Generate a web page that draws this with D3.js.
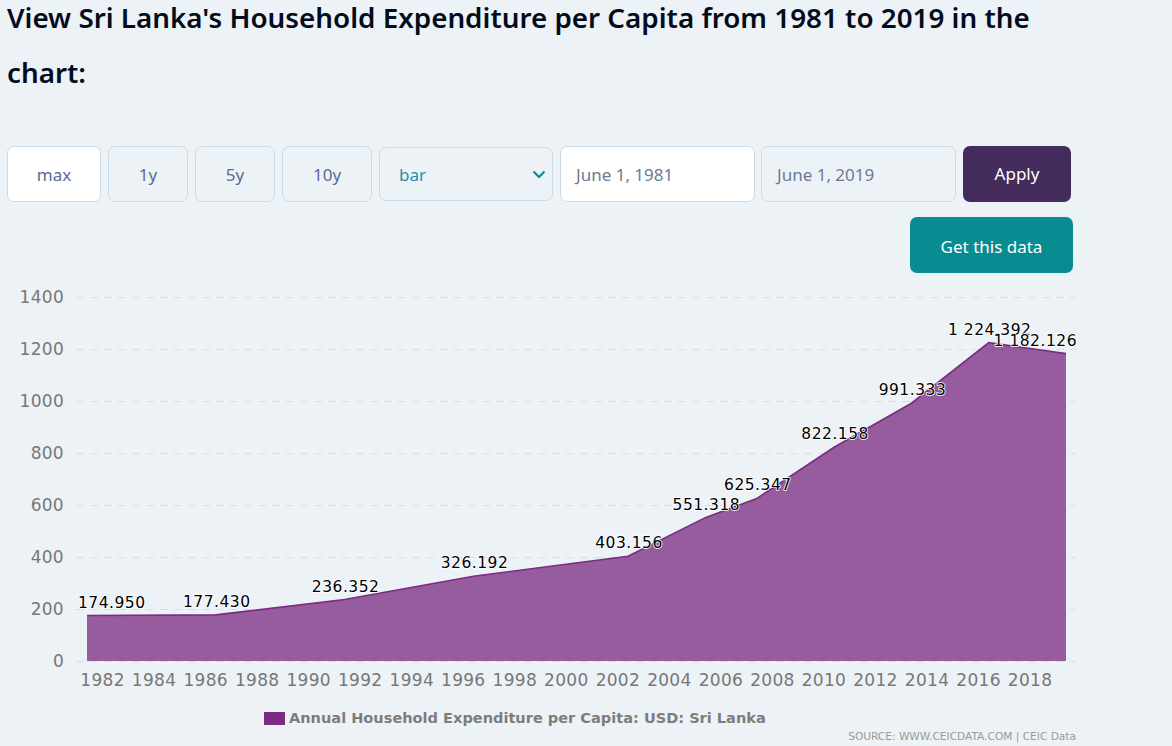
<!DOCTYPE html>
<html>
<head>
<meta charset="utf-8">
<script src="https://cdn.jsdelivr.net/npm/d3@7"></script>
<style>
    html, body { margin: 0; padding: 0; background: #edf2f7; overflow: hidden; }
    body { width: 1172px; height: 746px; position: relative; font-family: 'Noto Sans', sans-serif; }
    h2 { position: absolute; left: 7px; top: 0; width: 1050px; margin: 0; font-size: 27.8px; line-height: 34px; font-weight: 600; color: #020c1c; }
    h2 span { display: block; }
    h2 span + span { margin-top: 21px; }
    .ctl { position: absolute; box-sizing: border-box; height: 56px; top: 146px; border: 1px solid #cbdbe7; border-radius: 7px; font-size: 17px; line-height: 56px; color: #5b6b94; text-align: center; }
    .ctl.on { background: #fff; }
    .ctl.left { text-align: left; padding-left: 15px; line-height: 55px; color: #6c7a93; }
    .btn { border: 0; color: #fff; }
    #chart { position: absolute; left: 0; top: 0; }
    .chev { position: absolute; left: 532px; top: 170px; }
</style>
</head>
<body>
<h2><span>View Sri Lanka's Household Expenditure per Capita from 1981 to 2019 in the</span><span>chart:</span></h2>
<div id="controls"></div>
<div id="chart"></div>
<script>
    let years = [1981, 1986, 1991, 1996, 2002, 2005, 2007, 2010, 2013, 2016, 2019];
    let values = [174.950, 177.430, 236.352, 326.192, 403.156, 551.318, 625.347, 822.158, 991.333, 1224.392, 1182.126];
    let yTicks = [0, 200, 400, 600, 800, 1000, 1200, 1400];
    let seriesName = 'Annual Household Expenditure per Capita: USD: Sri Lanka';
    let sourceText = 'SOURCE: WWW.CEICDATA.COM | CEIC Data';
    let buttonLabels = ['max', '1y', '5y', '10y'];
    let dateLabels = ['June 1, 1981', 'June 1, 2019'];

    let controls = d3.select('#controls');

    // range buttons, first one is the active one
    let buttonBoxes = [[7, 94], [108, 80], [195, 80], [282, 90]];
    buttonLabels.forEach((label, i) => {
        controls.append('div')
            .attr('class', i === 0 ? 'ctl on' : 'ctl')
            .style('left', buttonBoxes[i][0] + 'px')
            .style('width', buttonBoxes[i][1] + 'px')
            .text(label);
    });

    controls.append('div')
        .attr('class', 'ctl left')
        .style('left', '379px').style('width', '174px')
        .style('height', '54px').style('top', '147px').style('line-height', '54px')
        .style('padding-left', '19px').style('color', '#1a93ad')
        .text('bar');

    controls.append('svg')
        .attr('class', 'chev').attr('width', 14).attr('height', 10)
        .append('path')
        .attr('d', 'M1.5 1.5 L7 7 L12.5 1.5')
        .attr('fill', 'none').attr('stroke', '#078d91').attr('stroke-width', 2.2);

    controls.append('div')
        .attr('class', 'ctl left on')
        .style('left', '560px').style('width', '195px')
        .text(dateLabels[0]);
    controls.append('div')
        .attr('class', 'ctl left')
        .style('left', '761px').style('width', '195px')
        .text(dateLabels[1]);

    controls.append('div')
        .attr('class', 'ctl btn')
        .style('left', '963px').style('width', '108px').style('background', '#432c5c').style('color', '#fff')
        .text('Apply');
    controls.append('div')
        .attr('class', 'ctl btn')
        .style('left', '910px').style('top', '217px').style('width', '163px').style('line-height', '59px')
        .style('background', '#078d91').style('color', '#fff')
        .text('Get this data');

    let svg = d3.select('#chart').append('svg')
        .attr('width', 1172)
        .attr('height', 746);

    let dates = years.map(y => new Date(y, 5, 1));
    let data = dates.map((d, i) => ({ date: d, value: values[i] }));

    let x = d3.scaleTime()
        .domain([dates[0], dates[dates.length - 1]])
        .range([87, 1066]);
    let y = d3.scaleLinear()
        .domain([0, 1400])
        .range([661, 297]);

    // grid
    svg.append('g').selectAll('line')
        .data(yTicks)
        .enter()
        .append('line')
        .attr('x1', 76)
        .attr('x2', 1076)
        .attr('y1', d => Math.round(y(d)) + 0.5)
        .attr('y2', d => Math.round(y(d)) + 0.5)
        .attr('stroke', '#d9dfe4')
        .attr('stroke-width', 1.2)
        .attr('stroke-dasharray', '8,6');

    // y axis
    let yAxis = svg.append('g')
        .attr('transform', 'translate(64,0)')
        .call(d3.axisLeft(y).tickValues(yTicks).tickFormat(d3.format('d')).tickSize(0).tickPadding(0));
    yAxis.select('.domain').remove();
    yAxis.selectAll('text')
        .attr('dy', null)
        .attr('y', 5)
        .style('font-family', "'DejaVu Sans', sans-serif")
        .style('font-size', '17px')
        .style('letter-spacing', '0.3px')
        .style('fill', '#777');

    // x axis, ticks sit on Jan 1 of even years
    let xTicks = d3.timeYear.range(new Date(1982, 0, 1), new Date(2019, 0, 1), 2);
    let xAxis = svg.append('g')
        .attr('transform', 'translate(0,661)')
        .call(d3.axisBottom(x).tickValues(xTicks).tickFormat(d3.timeFormat('%Y')).tickSize(0).tickPadding(0));
    xAxis.select('.domain').remove();
    xAxis.selectAll('text')
        .attr('dy', null)
        .attr('y', 25)
        .style('font-family', "'DejaVu Sans', sans-serif")
        .style('font-size', '17px')
        .style('letter-spacing', '0.3px')
        .style('fill', '#777');

    // area + line
    let area = d3.area().x(d => x(d.date)).y0(y(0)).y1(d => y(d.value));
    let line = d3.line().x(d => x(d.date)).y(d => y(d.value));

    svg.append('path')
        .datum(data)
        .attr('d', area)
        .attr('fill', '#782a7f')
        .attr('fill-opacity', 0.75);
    svg.append('path')
        .datum(data)
        .attr('d', line)
        .attr('fill', 'none')
        .attr('stroke', '#7c2b84')
        .attr('stroke-width', 1.6);

    // value labels, pushed back inside the plot at both ends
    let fmt = d3.formatLocale({ decimal: '.', thousands: ' ', grouping: [3], currency: ['', ''] }).format(',.3f');
    svg.append('g').selectAll('text')
        .data(data)
        .enter()
        .append('text')
        .text(d => fmt(d.value))
        .attr('x', d => x(d.date))
        .attr('y', d => y(d.value) - 8)
        .attr('text-anchor', 'middle')
        .style('font-family', "'DejaVu Sans', sans-serif")
        .style('font-size', '15.5px')
        .style('letter-spacing', '0.5px')
        .style('fill', '#000')
        .style('stroke', '#fff')
        .style('stroke-width', 1.6)
        .style('stroke-linejoin', 'round')
        .style('paint-order', 'stroke')
        .each(function(d) {
            let w = this.getComputedTextLength();
            let cx = x(d.date) + 1;
            if (cx - w / 2 < 78) cx = 78 + w / 2;
            if (cx + w / 2 > 1077) cx = 1077 - w / 2;
            d3.select(this).attr('x', cx);
        });

    // legend
    svg.append('rect')
        .attr('x', 264).attr('y', 712)
        .attr('width', 21).attr('height', 13)
        .attr('fill', '#7c2b84');
    svg.append('text')
        .text(seriesName)
        .attr('x', 289).attr('y', 723)
        .style('font-family', "'DejaVu Sans', sans-serif")
        .style('font-size', '14.55px')
        .style('font-weight', 'bold')
        .style('fill', '#7d7d7d');

    svg.append('text')
        .text(sourceText)
        .attr('x', 1076).attr('y', 740)
        .attr('text-anchor', 'end')
        .style('font-family', "'DejaVu Sans', sans-serif")
        .style('font-size', '10.6px')
        .style('fill', '#999');
</script>
</body>
</html>
